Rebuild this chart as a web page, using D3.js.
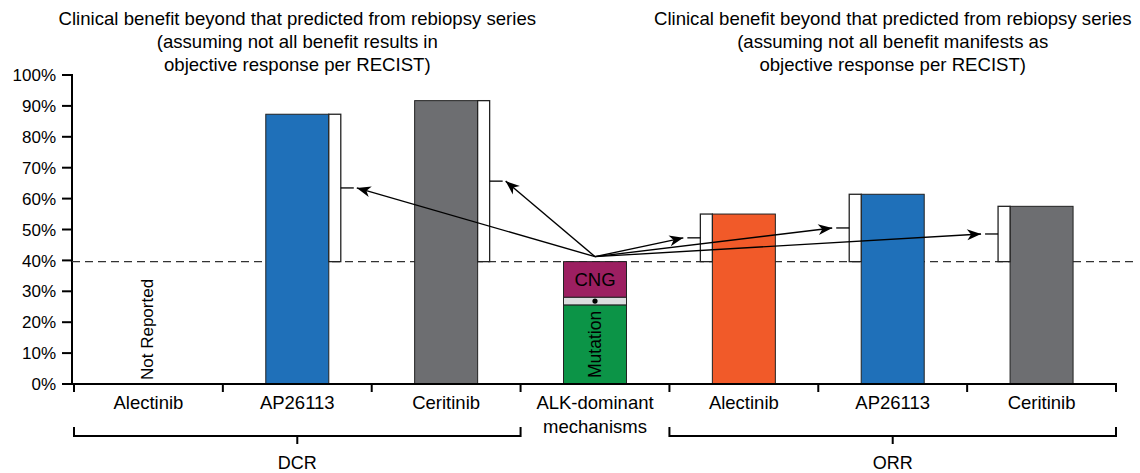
<!DOCTYPE html>
<html>
<head>
<meta charset="utf-8">
<script src="https://cdn.jsdelivr.net/npm/d3@7"></script>
<style>
  body { margin: 0; background: #fff; }
  svg { display: block; font-family: "Liberation Sans", Arial, sans-serif; }
</style>
</head>
<body>
<div id="chart"></div>
<script>
const width = 1140;
const height = 473;

// categories along the x axis (left three = DCR, right three = ORR)
const categories = ["Alectinib", "AP26113", "Ceritinib", "ALK-dominant|mechanisms", "Alectinib", "AP26113", "Ceritinib"];
const dcrValues = [null, 87.3, 91.7];
const orrValues = [55.0, 61.4, 57.5];
const drugColors = ["#f15a29", "#1f70b9", "#6d6e71"];
// ALK-dominant mechanisms stack (bottom to top)
const stackNames = ["Mutation", "", "CNG"];
const stackValues = [25.6, 2.5, 11.5];
const stackColors = ["#0c9447", "#dcdddf", "#9c1f61"];
const yTicks = [0, 10, 20, 30, 40, 50, 60, 70, 80, 90, 100];
const titleLeft = ["Clinical benefit beyond that predicted from rebiopsy series", "(assuming not all benefit results in", "objective response per RECIST)"];
const titleRight = ["Clinical benefit beyond that predicted from rebiopsy series", "(assuming not all benefit manifests as", "objective response per RECIST)"];

const baseline = d3.sum(stackValues);

const x = d3.scaleBand()
    .domain(d3.range(categories.length))
    .range([74, 1116])
    .padding(0);

const y = d3.scaleLinear()
    .domain([0, 100])
    .range([384, 75]);

const bw = x.bandwidth();
const barW = 63;
const boxW = 12;

const svg = d3.select("#chart")
    .append("svg")
    .attr("width", width)
    .attr("height", height);

const defs = svg.append("defs");
defs.append("marker")
    .attr("id", "arrow")
    .attr("markerUnits", "userSpaceOnUse")
    .attr("viewBox", "-15 -6 17 12")
    .attr("markerWidth", 17)
    .attr("markerHeight", 12)
    .attr("refX", 0)
    .attr("refY", 0)
    .attr("orient", "auto")
    .append("path")
    .attr("d", "M0,0 L-14,-5.5 L-10,0 L-14,5.5 Z")
    .attr("fill", "#000");

// titles
[[titleLeft, 1], [titleRight, 5]].forEach(([lines, i]) => {
  svg.append("text")
      .attr("text-anchor", "middle")
      .style("font-size", "18.6px")
      .selectAll("tspan")
      .data(lines)
      .join("tspan")
      .attr("x", x(i) + bw / 2)
      .attr("y", (d, k) => 25 + k * 23)
      .text(d => d);
});

// y axis
const yAxis = svg.append("g");
yAxis.append("line")
    .attr("x1", 72).attr("x2", 72)
    .attr("y1", y(100) - 1).attr("y2", y(0) + 1)
    .attr("stroke", "#000").attr("stroke-width", 2);
yAxis.selectAll("line.tick")
    .data(yTicks)
    .join("line")
    .attr("class", "tick")
    .attr("x1", 62).attr("x2", 72)
    .attr("y1", d => y(d)).attr("y2", d => y(d))
    .attr("stroke", "#000").attr("stroke-width", 2);
yAxis.selectAll("text")
    .data(yTicks)
    .join("text")
    .attr("x", 56)
    .attr("y", d => y(d))
    .attr("dy", "0.36em")
    .attr("text-anchor", "end")
    .style("font-size", "17px")
    .text(d => d + "%");

// dashed reference line
svg.append("line")
    .attr("x1", 72).attr("x2", 1134)
    .attr("y1", y(baseline)).attr("y2", y(baseline))
    .attr("stroke", "#333")
    .attr("stroke-width", 1.3)
    .attr("stroke-dasharray", "8,5");

// DCR bars with brackets to the right
const arrowTargets = [];
dcrValues.forEach((v, i) => {
  const cx = x(i) + bw / 2;
  if (v == null) {
    svg.append("text")
        .attr("transform", `translate(${cx + 5},${y(0) - 4}) rotate(-90)`)
        .attr("text-anchor", "start")
        .style("font-size", "17px")
        .text("Not Reported");
    return;
  }
  const bx = cx - barW / 2;
  svg.append("rect")
      .attr("x", bx).attr("width", barW)
      .attr("y", y(v)).attr("height", y(0) - y(v))
      .attr("fill", drugColors[i])
      .attr("stroke", "#222").attr("stroke-width", 1);
  svg.append("rect")
      .attr("x", bx + barW).attr("width", boxW)
      .attr("y", y(v)).attr("height", y(baseline) - y(v))
      .attr("fill", "#fff")
      .attr("stroke", "#222").attr("stroke-width", 1.3);
  const my = y((v + baseline) / 2);
  svg.append("line")
      .attr("x1", bx + barW + boxW).attr("x2", bx + barW + boxW + 13)
      .attr("y1", my).attr("y2", my)
      .attr("stroke", "#000").attr("stroke-width", 1.3);
  arrowTargets.push([bx + barW + boxW + 16, my]);
});

// ORR bars with brackets to the left
orrValues.forEach((v, j) => {
  const i = j + 4;
  const cx = x(i) + bw / 2;
  const bx = cx - barW / 2;
  svg.append("rect")
      .attr("x", bx).attr("width", barW)
      .attr("y", y(v)).attr("height", y(0) - y(v))
      .attr("fill", drugColors[j])
      .attr("stroke", "#222").attr("stroke-width", 1);
  svg.append("rect")
      .attr("x", bx - boxW).attr("width", boxW)
      .attr("y", y(v)).attr("height", y(baseline) - y(v))
      .attr("fill", "#fff")
      .attr("stroke", "#222").attr("stroke-width", 1.3);
  const my = y((v + baseline) / 2);
  svg.append("line")
      .attr("x1", bx - boxW - 13).attr("x2", bx - boxW)
      .attr("y1", my).attr("y2", my)
      .attr("stroke", "#000").attr("stroke-width", 1.3);
  arrowTargets.push([bx - boxW - 17, my]);
});

// ALK-dominant stacked bar
const ax = x(3) + bw / 2 - barW / 2;
let acc = 0;
const stackG = svg.append("g");
stackValues.forEach((v, k) => {
  const y0 = y(acc), y1 = y(acc + v);
  stackG.append("rect")
      .attr("x", ax).attr("width", barW)
      .attr("y", y1).attr("height", y0 - y1)
      .attr("fill", stackColors[k])
      .attr("stroke", "#222").attr("stroke-width", 1);
  const mid = (y0 + y1) / 2;
  if (stackNames[k] === "Mutation") {
    stackG.append("text")
        .attr("transform", `translate(${ax + barW / 2},${mid}) rotate(-90)`)
        .attr("text-anchor", "middle")
        .attr("dy", "0.36em")
        .style("font-size", "17.5px")
        .text(stackNames[k]);
  } else if (stackNames[k] === "CNG") {
    stackG.append("text")
        .attr("x", ax + barW / 2).attr("y", mid)
        .attr("dy", "0.36em")
        .attr("text-anchor", "middle")
        .style("font-size", "18.5px")
        .text(stackNames[k]);
  } else {
    stackG.append("circle")
        .attr("cx", ax + barW / 2).attr("cy", mid)
        .attr("r", 2.6).attr("fill", "#000");
  }
  acc += v;
});

// arrows from the ALK bar to each bracket
const origin = [x(3) + bw / 2, y(baseline) - 5];
svg.selectAll("line.arrow")
    .data(arrowTargets)
    .join("line")
    .attr("class", "arrow")
    .attr("x1", origin[0]).attr("y1", origin[1])
    .attr("x2", d => d[0]).attr("y2", d => d[1])
    .attr("stroke", "#000").attr("stroke-width", 1.4)
    .attr("marker-end", "url(#arrow)");

// x axis
svg.append("line")
    .attr("x1", 71).attr("x2", 1117)
    .attr("y1", y(0)).attr("y2", y(0))
    .attr("stroke", "#000").attr("stroke-width", 2);
svg.selectAll("line.xtick")
    .data(d3.range(categories.length + 1))
    .join("line")
    .attr("class", "xtick")
    .attr("x1", i => x(0) + i * bw).attr("x2", i => x(0) + i * bw)
    .attr("y1", y(0)).attr("y2", y(0) + 8)
    .attr("stroke", "#000").attr("stroke-width", 2);
svg.selectAll("text.xlab")
    .data(categories)
    .join("text")
    .attr("class", "xlab")
    .attr("text-anchor", "middle")
    .style("font-size", "18.5px")
    .selectAll("tspan")
    .data((d, i) => d.split("|").map(s => ({ s, i })))
    .join("tspan")
    .attr("x", d => x(d.i) + bw / 2)
    .attr("y", (d, k) => 409 + k * 24)
    .text(d => d.s);

// group brackets
const groups = [["DCR", 0, 3], ["ORR", 4, 7]];
groups.forEach(([name, a, b]) => {
  const x0 = x(0) + a * bw, x1 = x(0) + b * bw;
  const by = 436;
  svg.append("path")
      .attr("d", `M${x0},${by - 9} V${by} H${x1} V${by - 9} M${(x0 + x1) / 2},${by} v8`)
      .attr("fill", "none")
      .attr("stroke", "#000").attr("stroke-width", 2);
  svg.append("text")
      .attr("x", (x0 + x1) / 2).attr("y", 469)
      .attr("text-anchor", "middle")
      .style("font-size", "18px")
      .text(name);
});
</script>
</body>
</html>
